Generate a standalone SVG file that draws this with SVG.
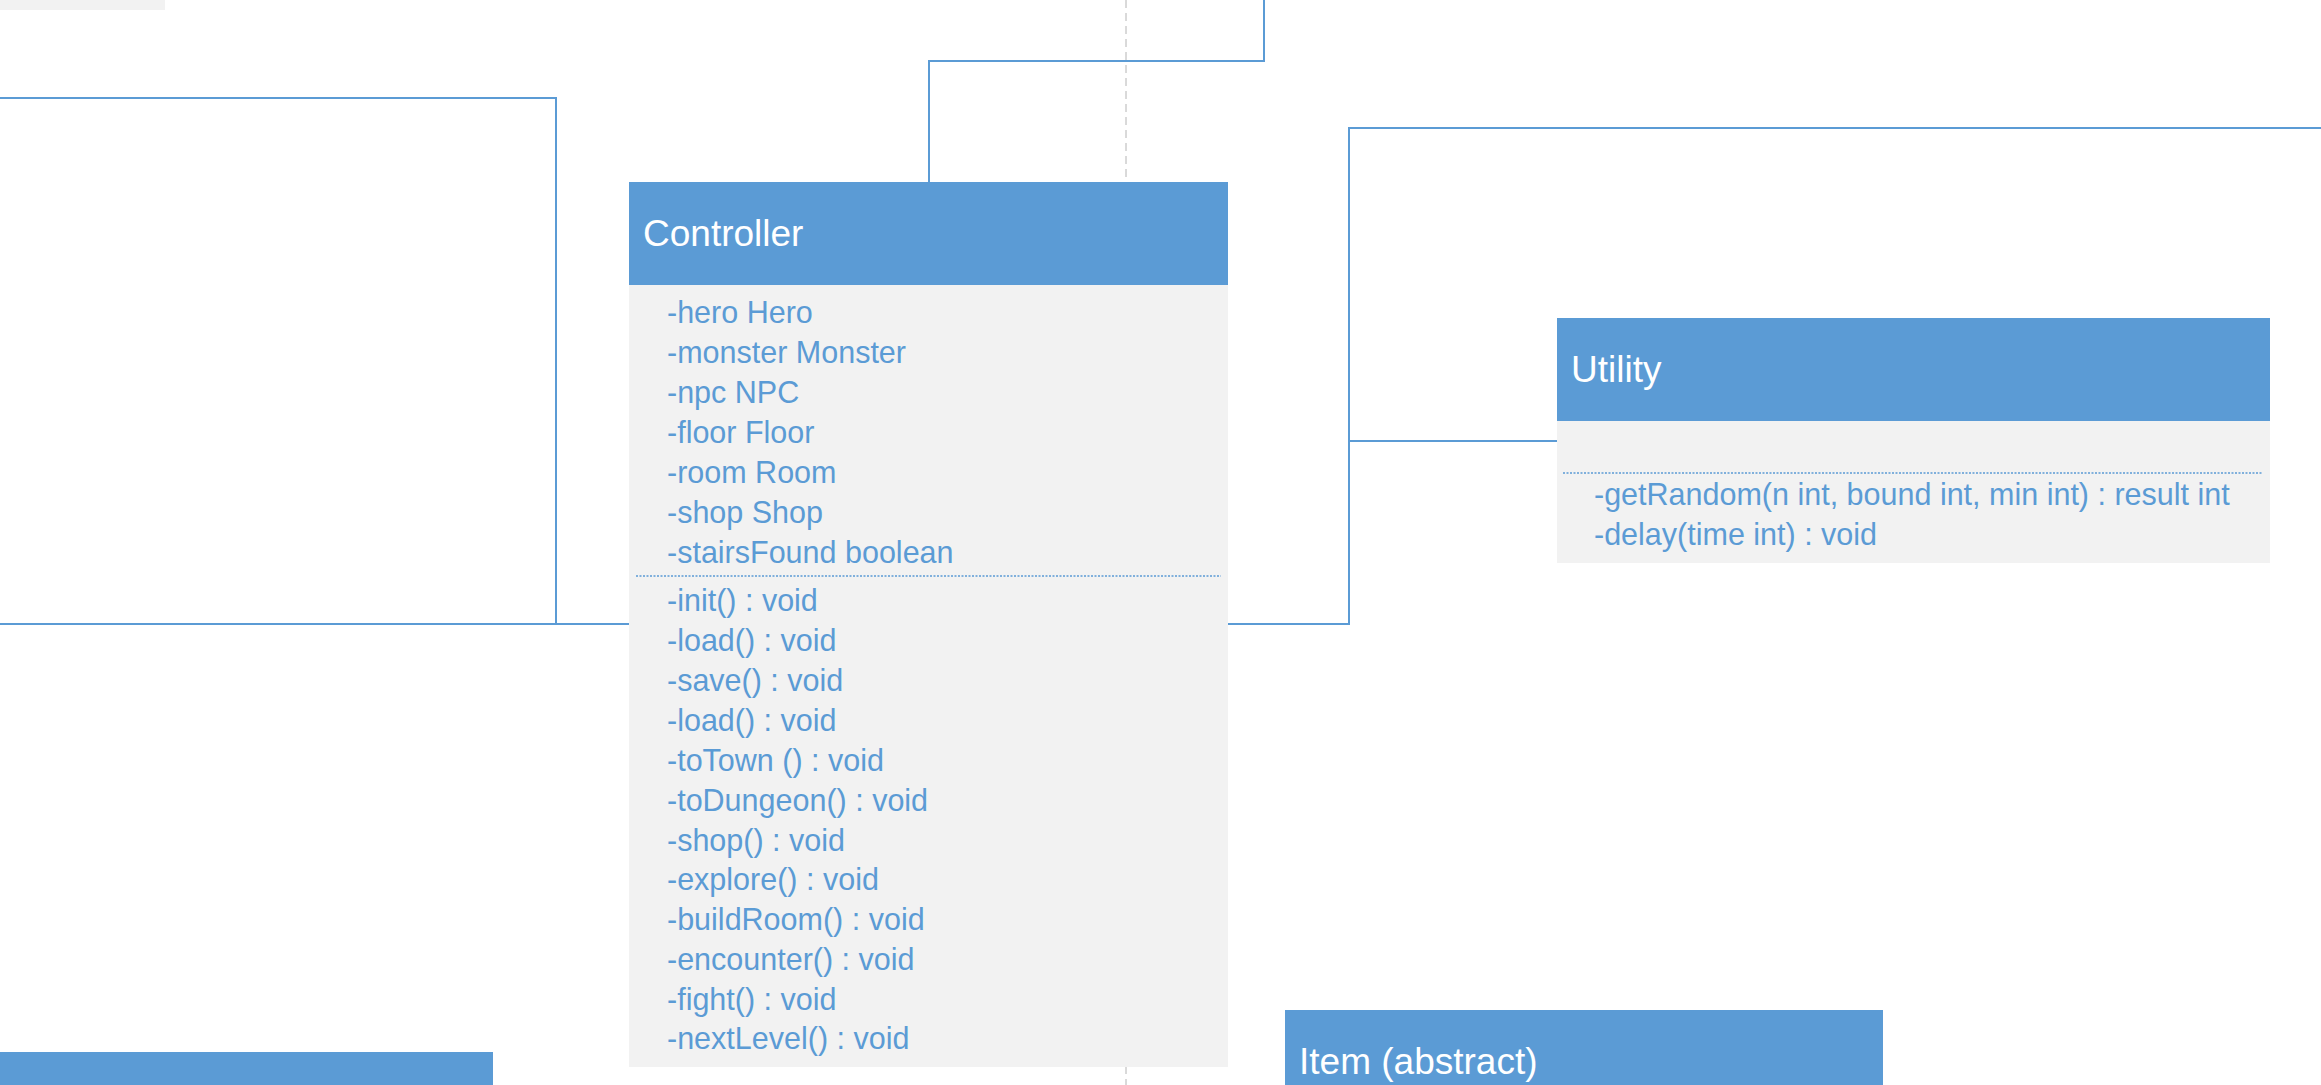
<svg xmlns="http://www.w3.org/2000/svg" width="2321" height="1085" viewBox="0 0 2321 1085">
  <style>
    .hdr { fill: #5B9BD5; }
    .body { fill: #F2F2F2; }
    .title { font-family: "Liberation Sans", Arial, sans-serif; font-size: 37px; fill: #FFFFFF; }
    .member { font-family: "Liberation Sans", Arial, sans-serif; font-size: 30.5px; fill: #5B9BD5; }
    .sep { stroke: #5B9BD5; stroke-width: 1.5; stroke-dasharray: 2 1.5; fill: none; }
    .conn { stroke: #5B9BD5; stroke-width: 2; fill: none; }
    .guide { stroke: #B4B4B4; stroke-width: 1; stroke-dasharray: 8 5; fill: none; }
  </style>
  <rect x="0" y="0" width="2321" height="1085" fill="#FFFFFF"/>

  <line class="guide" x1="1126" y1="0" x2="1126" y2="1085"/>

  <g id="connectors">
    <polyline class="conn" points="0,98 556,98 556,624"/>
    <line class="conn" x1="0" y1="624" x2="629" y2="624"/>
    <polyline class="conn" points="929,182 929,61 1264,61 1264,0"/>
    <polyline class="conn" points="1228,624 1349,624 1349,128 2321,128"/>
    <line class="conn" x1="1349" y1="441" x2="1557" y2="441"/>
  </g>

  <g id="partial-top-left">
    <rect class="body" x="0" y="0" width="165" height="10"/>
  </g>

  <g id="controller">
    <rect class="body" x="629" y="285" width="599" height="782"/>
    <rect class="hdr" x="629" y="182" width="599" height="103"/>
    <text class="title" x="643" y="246">Controller</text>
    <text class="member" x="667" y="323">-hero Hero</text>
    <text class="member" x="667" y="363">-monster Monster</text>
    <text class="member" x="667" y="403">-npc NPC</text>
    <text class="member" x="667" y="443">-floor Floor</text>
    <text class="member" x="667" y="483">-room Room</text>
    <text class="member" x="667" y="523">-shop Shop</text>
    <text class="member" x="667" y="563">-stairsFound boolean</text>
    <line class="sep" x1="636" y1="576" x2="1221" y2="576"/>
    <text class="member" x="667" y="611">-init() : void</text>
    <text class="member" x="667" y="651">-load() : void</text>
    <text class="member" x="667" y="691">-save() : void</text>
    <text class="member" x="667" y="731">-load() : void</text>
    <text class="member" x="667" y="771">-toTown () : void</text>
    <text class="member" x="667" y="811">-toDungeon() : void</text>
    <text class="member" x="667" y="851">-shop() : void</text>
    <text class="member" x="667" y="890">-explore() : void</text>
    <text class="member" x="667" y="930">-buildRoom() : void</text>
    <text class="member" x="667" y="970">-encounter() : void</text>
    <text class="member" x="667" y="1010">-fight() : void</text>
    <text class="member" x="667" y="1049">-nextLevel() : void</text>
  </g>

  <g id="utility">
    <rect class="body" x="1557" y="421" width="713" height="142"/>
    <rect class="hdr" x="1557" y="318" width="713" height="103"/>
    <text class="title" x="1571" y="382">Utility</text>
    <line class="sep" x1="1563" y1="473" x2="2263" y2="473"/>
    <text class="member" x="1594" y="505">-getRandom(n int, bound int, min int) : result int</text>
    <text class="member" x="1594" y="545">-delay(time int) : void</text>
  </g>

  <g id="item">
    <rect class="hdr" x="1285" y="1010" width="598" height="75"/>
    <text class="title" x="1299" y="1074">Item (abstract)</text>
  </g>

  <g id="partial-bottom-left">
    <rect class="hdr" x="0" y="1052" width="493" height="33"/>
  </g>
</svg>
